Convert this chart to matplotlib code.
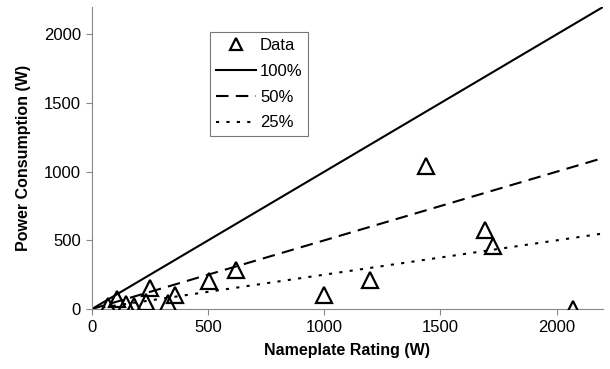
import matplotlib
matplotlib.use("Agg")
import matplotlib.pyplot as plt
import numpy as np

plt.rcParams['font.family'] = ['Liberation Sans', 'DejaVu Sans']

nameplate = [69, 108, 147, 181, 233, 250, 328, 358, 504, 621, 1000, 1198, 1440, 1694, 1728, 2070]
consumption = [22, 73, 37, 22, 51, 154, 44, 103, 205, 286, 103, 212, 1040, 579, 462, 2]
line_fracs = [1.0, 0.5, 0.25]
line_labels = ['100%', '50%', '25%']
line_styles = ['-', (0, (6, 3.5)), (0, (1.5, 3.5))]
xticks = [0, 500, 1000, 1500, 2000]
yticks = [0, 500, 1000, 1500, 2000]

fig = plt.figure(figsize=(6.1, 3.69), dpi=100)
ax = fig.add_axes([0.1508, 0.1626, 0.8377, 0.8184])

ax.plot(nameplate, consumption, linestyle='none', marker='^', markersize=11,
        markerfacecolor='none', markeredgecolor='black', markeredgewidth=1.6,
        label='Data', zorder=3)
xs = np.array([0, 2200])
for f, lab, ls in zip(line_fracs, line_labels, line_styles):
    ax.plot(xs, f * xs, color='black', linestyle=ls, linewidth=1.5, label=lab)

ax.set_xlim(0, 2200)
ax.set_ylim(0, 2200)
ax.set_xticks(xticks)
ax.set_yticks(yticks)
ax.tick_params(labelsize=12, length=4, color='#888888', direction='out', pad=4)
for side in ['top', 'right']:
    ax.spines[side].set_visible(False)
for side in ['left', 'bottom']:
    ax.spines[side].set_color('#888888')
    ax.spines[side].set_linewidth(0.8)

ax.set_xlabel('Nameplate Rating (W)', fontsize=11.5, fontweight='bold', labelpad=6)
ax.set_ylabel('Power Consumption (W)', fontsize=11.5, fontweight='bold', labelpad=9)

leg = ax.legend(loc='upper left', bbox_to_anchor=(0.231, 0.917), fontsize=12,
                frameon=True, fancybox=False, handlelength=2.4, handletextpad=0.25,
                labelspacing=0.65, borderpad=0.35, borderaxespad=0, markerscale=0.75)
leg.get_frame().set_edgecolor('#555555')
leg.get_frame().set_linewidth(0.8)

fig.savefig('out.png', dpi=100)
